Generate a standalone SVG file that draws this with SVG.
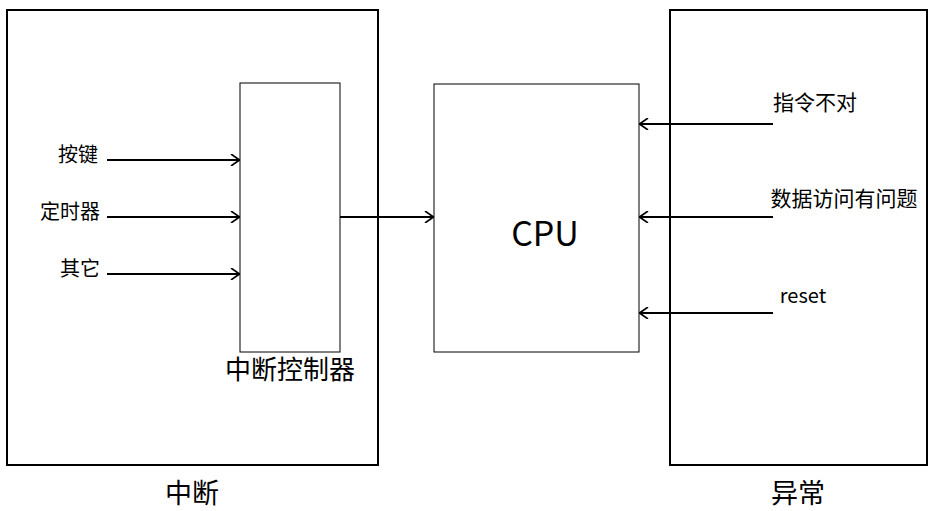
<svg xmlns="http://www.w3.org/2000/svg" width="936" height="511" viewBox="0 0 936 511">
<style>
.b{fill:#fff;stroke:#000;stroke-width:2}
.t{fill:none;stroke:#000;stroke-width:1}
.l{stroke:#000;stroke-width:2;fill:none;marker-end:url(#a)}
text{font-family:"Noto Sans CJK SC","Noto Sans",sans-serif;fill:#000}
</style>
<defs><marker id="a" viewBox="0 0 10 12" refX="10" refY="6" markerWidth="10" markerHeight="12" markerUnits="userSpaceOnUse" orient="auto"><path d="M1,0 L9.5,6 L1,12" fill="none" stroke="#000" stroke-width="1.6"/></marker></defs>
<rect width="936" height="511" fill="#fff"/>
<g id="interrupt"><rect class="b" x="7" y="10" width="371" height="455"/><text x="192" y="503" font-size="27" text-anchor="middle">中断</text></g>
<g id="controller"><rect class="t" x="240" y="83" width="100" height="269"/><text x="290" y="379" font-size="26" text-anchor="middle">中断控制器</text></g>
<g id="cpu"><rect class="t" x="434" y="84" width="205" height="268"/><text x="545" y="246" font-size="34" text-anchor="middle" font-family="Open Sans,sans-serif">CPU</text></g>
<g id="exception"><rect class="b" x="670" y="10" width="257" height="455"/><text x="798" y="503" font-size="27" text-anchor="middle">异常</text></g>
<g id="labels">
<text x="78" y="162" text-anchor="middle" font-size="20">按键</text>
<text x="70" y="219" text-anchor="middle" font-size="20">定时器</text>
<text x="80" y="276" text-anchor="middle" font-size="20">其它</text>
<text x="815" y="110" text-anchor="middle" font-size="21">指令不对</text>
<text x="844" y="206" text-anchor="middle" font-size="21">数据访问有问题</text>
<text x="803" y="303" text-anchor="middle" font-size="20" font-family="Open Sans,sans-serif">reset</text>
</g>
<g id="connectors">
<line class="l" x1="107" y1="160" x2="240" y2="160"/>
<line class="l" x1="107" y1="217" x2="240" y2="217"/>
<line class="l" x1="107" y1="274" x2="240" y2="274"/>
<line class="l" x1="340" y1="217" x2="434" y2="217"/>
<line class="l" x1="773" y1="124" x2="639" y2="124"/>
<line class="l" x1="773" y1="217" x2="639" y2="217"/>
<line class="l" x1="773" y1="313" x2="639" y2="313"/>
</g>
</svg>
